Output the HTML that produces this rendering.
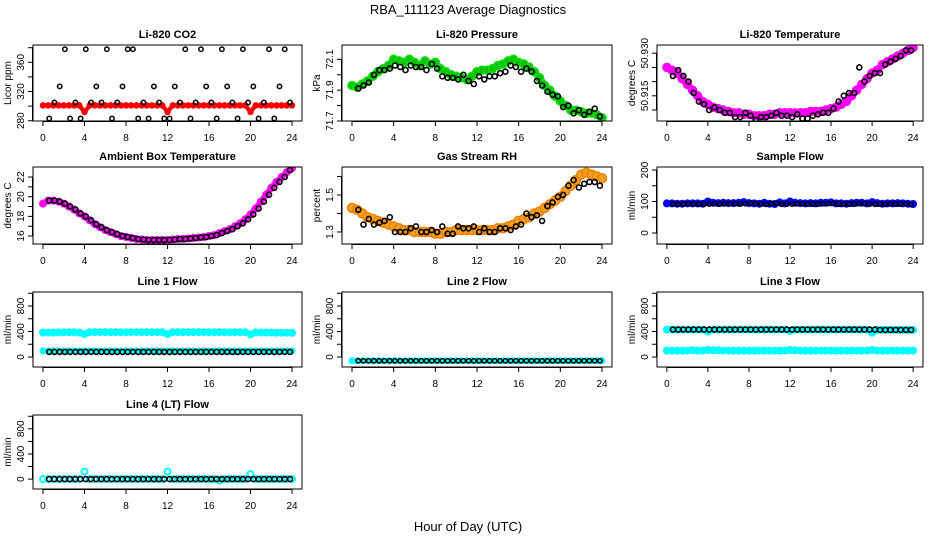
<!DOCTYPE html>
<html><head><meta charset="utf-8"><style>
html,body{margin:0;padding:0;background:#fff;width:936px;height:540px;overflow:hidden}
svg{display:block;font-family:"Liberation Sans",sans-serif}
</style></head><body>
<svg id="chart" width="936" height="540" viewBox="0 0 936 540" xmlns="http://www.w3.org/2000/svg">
<rect x="0" y="0" width="936" height="540" fill="#fff"/>
<text x="468" y="14" text-anchor="middle" font-size="13">RBA_111123  Average Diagnostics</text>
<text x="468" y="531" text-anchor="middle" font-size="13">Hour of Day (UTC)</text>
</svg>
<script>
const xTicks = [0,4,8,12,16,20,24];
const co2Black = [283,305,327,378,283,305,283,378,305,327,305,378,283,305,327,378,378,283,305,283,327,305,283,283,327,305,378,283,305,378,327,305,283,378,327,305,283,378,305,327,283,305,378,283,327,378,305];
const co2Red = [301,301,301,301,301,301,301,301,292,301,301,301,301,301,301,301,301,301,301,301,301,301,301,301,292,301,301,301,301,301,301,301,301,301,301,301,301,301,301,301,292,301,301,301,301,301,301,301,301];
const presGreen = [71.93,71.92,71.94,71.96,71.99,72.02,72.04,72.06,72.10,72.09,72.08,72.10,72.08,72.06,72.09,72.07,72.08,72.04,72.02,72.00,71.99,71.98,71.97,71.99,72.02,72.03,72.03,72.04,72.06,72.07,72.09,72.10,72.08,72.07,72.05,72.02,71.98,71.93,71.90,71.86,71.83,71.80,71.77,71.77,71.76,71.75,71.75,71.74,71.72];
const presBlack = [71.91,71.93,71.95,72.00,72.03,72.03,72.04,72.06,72.05,72.03,72.06,72.05,72.05,72.03,72.07,72.04,71.99,71.98,71.98,71.97,72.00,71.96,71.94,71.99,71.97,71.99,71.99,72.01,72.02,72.06,72.05,72.02,72.04,72.02,71.96,71.93,71.89,71.87,71.86,71.79,71.80,71.75,71.77,71.74,71.76,71.78,71.73];
const tempMag = [50.925,50.924,50.923,50.921,50.919,50.917,50.915,50.913,50.912,50.911,50.9105,50.910,50.9095,50.909,50.909,50.9085,50.9085,50.908,50.908,50.908,50.9085,50.9085,50.909,50.909,50.909,50.909,50.909,50.909,50.9095,50.9095,50.9095,50.910,50.9105,50.911,50.912,50.913,50.915,50.917,50.919,50.921,50.923,50.924,50.926,50.927,50.928,50.929,50.930,50.931,50.932];
const tempBlack = [50.922,50.924,50.922,50.920,50.916,50.913,50.912,50.910,50.911,50.910,50.909,50.909,50.9075,50.9075,50.909,50.908,50.9065,50.9075,50.9075,50.908,50.909,50.908,50.908,50.9075,50.9085,50.907,50.907,50.908,50.9085,50.909,50.909,50.9105,50.913,50.915,50.916,50.916,50.925,50.920,50.922,50.923,50.923,50.926,50.927,50.928,50.929,50.931,50.931];
const ambMag = [19.3,19.6,19.6,19.5,19.3,19.0,18.7,18.3,18.0,17.6,17.2,16.9,16.6,16.4,16.2,16.0,15.9,15.8,15.7,15.65,15.6,15.6,15.6,15.6,15.6,15.65,15.7,15.7,15.75,15.8,15.85,15.9,16.0,16.1,16.3,16.5,16.7,17.0,17.3,17.7,18.2,18.8,19.5,20.2,20.9,21.5,22.0,22.5,22.9];
const ambBlack = [19.6,19.6,19.5,19.3,19.0,18.7,18.3,18.0,17.6,17.2,16.9,16.6,16.4,16.2,16.0,15.9,15.8,15.7,15.65,15.6,15.6,15.6,15.6,15.6,15.65,15.7,15.7,15.75,15.8,15.85,15.9,16.0,16.1,16.3,16.5,16.7,17.0,17.3,17.7,18.2,18.8,19.5,20.2,20.9,21.5,22.0,22.7];
const rhOrange = [1.43,1.42,1.40,1.38,1.37,1.36,1.35,1.34,1.33,1.32,1.31,1.31,1.30,1.30,1.30,1.30,1.29,1.29,1.30,1.30,1.31,1.31,1.31,1.31,1.31,1.31,1.31,1.31,1.32,1.32,1.33,1.34,1.36,1.37,1.38,1.40,1.41,1.43,1.45,1.47,1.49,1.52,1.55,1.58,1.61,1.62,1.61,1.60,1.59];
const rhBlack = [1.42,1.34,1.37,1.34,1.35,1.36,1.38,1.30,1.30,1.30,1.32,1.33,1.30,1.30,1.31,1.30,1.33,1.29,1.29,1.33,1.32,1.32,1.33,1.30,1.32,1.30,1.30,1.32,1.32,1.31,1.33,1.34,1.40,1.38,1.39,1.36,1.44,1.46,1.49,1.50,1.55,1.58,1.54,1.56,1.57,1.57,1.55];
const sampBlue = [94,94,93,93,94,94,94,93,100,96,95,96,95,95,96,98,95,94,93,96,93,92,97,94,100,96,95,94,95,94,96,96,97,94,94,93,95,96,96,94,98,95,93,94,94,95,94,93,92];
const sampBlack = [92,91,92,93,92,91,92,92,93,92,93,93,93,92,93,94,94,92,91,93,94,91,92,92,93,93,92,92,92,93,94,94,92,92,92,92,94,93,92,91,92,91,93,92,92,93,90];
const l1CyanHi = [385,383,385,386,388,388,388,385,360,388,390,389,390,388,390,388,389,389,390,389,390,388,389,389,360,389,390,389,390,389,390,389,389,389,390,388,389,389,389,388,355,386,385,384,383,382,381,380,380];
const l1CyanLo = [95,95,95,95,95,95,95,95,95,95,95,95,95,95,95,95,95,95,95,95,95,95,95,95,95,95,95,95,95,95,95,95,95,95,95,95,95,95,95,95,95,95,95,95,95,95,95,95,95];
const l1Black = [80,80,80,80,80,80,80,80,80,80,80,80,80,80,80,80,80,80,80,80,80,80,80,80,80,80,80,80,80,80,80,80,80,80,80,80,80,80,80,80,80,80,80,80,80,80,80];
const l2Cyan = [-60,-60,-60,-60,-60,-60,-60,-60,-60,-60,-60,-60,-60,-60,-60,-60,-60,-60,-60,-60,-60,-60,-60,-60,-60,-60,-60,-60,-60,-60,-60,-60,-60,-60,-60,-60,-60,-60,-60,-60,-60,-60,-60,-60,-60,-60,-60,-60,-60];
const l2Black = [-60,-60,-60,-60,-60,-60,-60,-60,-60,-60,-60,-60,-60,-60,-60,-60,-60,-60,-60,-60,-60,-60,-60,-60,-60,-60,-60,-60,-60,-60,-60,-60,-60,-60,-60,-60,-60,-60,-60,-60,-60,-60,-60,-60,-60,-60,-60];
const l3CyanHi = [430,430,430,430,430,430,430,430,400,430,430,430,430,430,430,430,430,430,430,430,430,430,430,430,410,430,430,430,430,430,430,430,430,430,430,430,430,430,430,430,380,425,425,425,425,425,425,425,425];
const l3Black = [430,430,430,430,430,430,430,430,430,430,430,430,430,430,430,430,430,430,430,430,430,430,430,430,430,430,430,430,430,430,430,430,430,430,430,430,430,430,430,430,425,425,425,425,425,425,425];
const l3CyanLo = [100,100,100,100,100,105,100,100,110,105,105,100,100,100,100,100,100,100,100,100,100,100,100,100,110,105,100,100,100,100,100,100,100,100,100,100,100,100,100,100,110,100,100,100,100,100,100,100,100];
const l4Cyan = [0,0,0,0,0,0,0,0,120,0,0,0,0,0,0,0,0,0,0,0,0,0,0,0,120,0,0,0,0,0,0,0,0,0,-20,0,0,0,0,0,80,0,0,0,0,0,0,0,0];
const l4Black = [0,0,0,0,0,0,0,0,0,0,0,0,0,0,0,0,0,0,0,0,0,0,0,0,0,0,0,0,0,0,0,0,0,0,0,0,0,0,0,0,0,0,0,0,0,0,0];

const NS="http://www.w3.org/2000/svg";
const svg=document.getElementById('chart');
const colX=[[33,302],[342,612],[657,923]];
const rowY=[[45,121],[167,244],[292,367],[415,489]];
function mk(tag,attrs,parent){const e=document.createElementNS(NS,tag);for(const k in attrs)e.setAttribute(k,attrs[k]);(parent||svg).appendChild(e);return e;}
function hours(n,a,b){const h=[];for(let i=0;i<n;i++)h.push(a+(b-a)*i/(n-1));return h;}

const flowTicks=[0,200,400,600,800,1000], flowLabels=["0","","400","","800",""];
const panels=[
 {key:'co2',t:'Li-820 CO2',yl:'Licor ppm',c:0,r:0,ylim:[279.6,383.7],ticks:[280,300,320,340,360,380],lab:["280","","320","","360",""],
  s:[{v:co2Red,col:'#ff0000',fill:'#ff0000',rad:2.5,a:0,b:24,w:1.5},{v:co2Black,col:'#000',fill:'none',rad:2.2,a:0.6,b:23.8,w:1.5}]},
 {key:'pressure',t:'Li-820 Pressure',yl:'kPa',c:1,r:0,ylim:[71.7,72.193],ticks:[71.7,71.8,71.9,72.0,72.1],lab:["71.7","","71.9","","72.1"],
  s:[{v:presGreen,col:'#00e000',fill:'#10c010',rad:4,a:0,b:24,w:1.5},{v:presBlack,col:'#000',fill:'none',rad:2.5,a:0.6,b:23.8,w:1.6}]},
 {key:'temperature',t:'Li-820 Temperature',yl:'degrees C',c:2,r:0,ylim:[50.90613,50.93289],ticks:[50.910,50.915,50.920,50.925,50.930],lab:["","50.915","","","50.930"],
  s:[{v:tempMag,col:'#ff00ff',fill:'#ff00ff',rad:4,a:0,b:24,w:1.5},{v:tempBlack,col:'#000',fill:'none',rad:2.5,a:0.6,b:23.8,w:1.6}]},
 {key:'ambient',t:'Ambient Box Temperature',yl:'degrees C',c:0,r:1,ylim:[15.19,23.02],ticks:[16,17,18,19,20,21,22],lab:["16","","18","","20","","22"],
  s:[{v:ambMag,col:'#ff00ff',fill:'#ff00ff',rad:3.5,a:0,b:24,w:1},{v:ambBlack,col:'#000',fill:'none',rad:2.5,a:0.6,b:23.8,w:1.6}]},
 {key:'rh',t:'Gas Stream RH',yl:'percent',c:1,r:1,ylim:[1.235,1.651],ticks:[1.3,1.4,1.5,1.6],lab:["1.3","","1.5",""],
  s:[{v:rhOrange,col:'#f08000',fill:'#f0a020',rad:4.5,a:0,b:24,w:1.5},{v:rhBlack,col:'#000',fill:'none',rad:2.5,a:0.6,b:23.8,w:1.6}]},
 {key:'sample-flow',t:'Sample Flow',yl:'ml/min',c:2,r:1,ylim:[-34.9,209.5],ticks:[0,50,100,150,200],lab:["0","","100","","200"],
  s:[{v:sampBlue,col:'#0000ff',fill:'#0000ff',rad:3.5,a:0,b:24,w:1},{v:sampBlack,col:'#000',fill:'none',rad:2.2,a:0.6,b:23.8,w:1.5}]},
 {key:'line1-flow',t:'Line 1 Flow',yl:'ml/min',c:0,r:2,ylim:[-157,1020],ticks:flowTicks,lab:flowLabels,
  s:[{v:l1CyanHi,col:'#00ffff',fill:'#00ffff',rad:3.5,a:0,b:24,w:1},{v:l1CyanLo,col:'#00ffff',fill:'#00ffff',rad:3,a:0,b:24,w:1},{v:l1Black,col:'#000',fill:'none',rad:2.5,a:0.6,b:23.8,w:1.6}]},
 {key:'line2-flow',t:'Line 2 Flow',yl:'ml/min',c:1,r:2,ylim:[-157,1020],ticks:flowTicks,lab:flowLabels,
  s:[{v:l2Cyan,col:'#00ffff',fill:'#00ffff',rad:3,a:0,b:24,w:1},{v:l2Black,col:'#000',fill:'none',rad:2.2,a:0.6,b:23.8,w:1.5}]},
 {key:'line3-flow',t:'Line 3 Flow',yl:'ml/min',c:2,r:2,ylim:[-157,1020],ticks:flowTicks,lab:flowLabels,
  s:[{v:l3CyanHi,col:'#00ffff',fill:'#00ffff',rad:3.5,a:0,b:24,w:1},{v:l3CyanLo,col:'#00ffff',fill:'#00ffff',rad:3.5,a:0,b:24,w:1},{v:l3Black,col:'#000',fill:'none',rad:2.5,a:0.6,b:23.8,w:1.6}]},
 {key:'line4-flow',t:'Line 4 (LT) Flow',yl:'ml/min',c:0,r:3,ylim:[-157,1020],ticks:flowTicks,lab:flowLabels,
  s:[{v:l4Cyan,col:'#00ffff',fill:'none',rad:3,a:0,b:24,w:2},{v:l4Black,col:'#000',fill:'none',rad:2.5,a:0.6,b:23.8,w:1.6}]}
];

panels.forEach(p=>{
  const [x0,x1]=colX[p.c],[y0,y1]=rowY[p.r];
  const g=mk('g',{});
  
  
  const xs=h=>x0+(h+0.96)/25.92*(x1-x0);
  const ys=v=>y1-(v-p.ylim[0])/(p.ylim[1]-p.ylim[0])*(y1-y0);
  const cid='clip-'+p.key;
  const cp=mk('clipPath',{id:cid},g);mk('rect',{x:x0,y:y0,width:x1-x0,height:y1-y0},cp);
  const pts=mk('g',{'clip-path':'url(#'+cid+')'},g);
  p.s.forEach((s,si)=>{
    const hs=hours(s.v.length,s.a,s.b);
    if(s.fill!=='none'){
      const d=s.v.map((v,i)=>(i?'L':'M')+xs(hs[i]).toFixed(1)+','+ys(v).toFixed(1)).join('');
      const band=mk('path',{d:d,fill:'none',stroke:s.fill,'stroke-width':s.rad*1.7,'stroke-linejoin':'round','stroke-linecap':'round'},pts);
      
      
    }
    s.v.forEach((v,i)=>{
      const c=mk('circle',{cx:xs(hs[i]).toFixed(1),cy:ys(v).toFixed(1),r:s.rad,fill:s.fill,stroke:s.col,'stroke-width':s.w},pts);
      
      
    });
  });
  const box=mk('rect',{x:x0,y:y0,width:x1-x0,height:y1-y0,fill:'none',stroke:'#000','stroke-width':1},g);
  
  
  const title=mk('text',{x:(x0+x1)/2,y:y0-7,'text-anchor':'middle','font-size':11,'font-weight':'bold'},g);
  title.textContent=p.t;
  
  
  const xa=mk('g',{},g);
  
  
  mk('line',{x1:xs(0),x2:xs(24),y1:y1+0.5,y2:y1+0.5,stroke:'#000'},xa);
  xTicks.forEach(t=>{
    mk('line',{x1:xs(t),x2:xs(t),y1:y1,y2:y1+5,stroke:'#000'},xa);
    const tx=mk('text',{x:xs(t),y:y1+20,'text-anchor':'middle','font-size':10},xa);tx.textContent=t;
  });
  const ya=mk('g',{},g);
  
  
  mk('line',{x1:x0-0.5,x2:x0-0.5,y1:ys(p.ticks[0]),y2:ys(p.ticks[p.ticks.length-1]),stroke:'#000'},ya);
  p.ticks.forEach((t,i)=>{
    const yy=ys(t);
    mk('line',{x1:x0-5,x2:x0,y1:yy,y2:yy,stroke:'#000'},ya);
    if(p.lab[i]){const tx=mk('text',{x:x0-9,y:yy,'text-anchor':'middle','font-size':10,transform:`rotate(-90 ${x0-9} ${yy})`},ya);tx.textContent=p.lab[i];}
  });
  const yl=mk('text',{x:x0-22,y:(y0+y1)/2,'text-anchor':'middle','font-size':10,transform:`rotate(-90 ${x0-22} ${(y0+y1)/2})`},g);
  yl.textContent=p.yl;
  
  
});
</script>
</body></html>
